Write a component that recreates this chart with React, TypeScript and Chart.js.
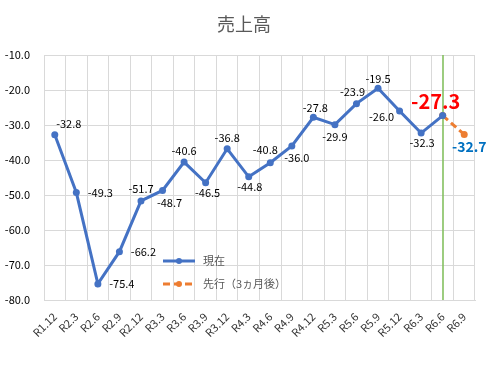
import React, { useEffect, useRef } from "react";
import { Chart, registerables } from "chart.js";

Chart.register(...registerables);

const chartTitle = "売上高";
const categories = [
  "R1.12", "R2.3", "R2.6", "R2.9", "R2.12", "R3.3", "R3.6", "R3.9", "R3.12", "R4.3",
  "R4.6", "R4.9", "R4.12", "R5.3", "R5.6", "R5.9", "R5.12", "R6.3", "R6.6", "R6.9",
];
const currentName = "現在";
const currentValues: (number | null)[] = [
  -32.8, -49.3, -75.4, -66.2, -51.7, -48.7, -40.6, -46.5, -36.8, -44.8,
  -40.8, -36.0, -27.8, -29.9, -23.9, -19.5, -26.0, -32.3, -27.3, null,
];
const forecastName = "先行（3ヵ月後）";
const forecastValues: (number | null)[] = [
  null, null, null, null, null, null, null, null, null, null,
  null, null, null, null, null, null, null, null, -27.3, -32.7,
];
const yTicks = [-80, -70, -60, -50, -40, -30, -20, -10];
const markerCategory = "R6.6";

// label offsets (dx, dy) from each point — placement only
const currentLabelOffsets: [number, number][] = [
  [14, -11], [24, 0], [24, 0], [24, 0], [0, -12], [7, 12], [0, -11], [2, 10], [0, -11], [1, 10],
  [-5, -13], [5, 12], [2, -9], [0, 12], [-4, -12], [0, -9], [-18, 6], [1, 10], [-7, -14], [0, 0],
];
const forecastLabelOffset: [number, number] = [5, 12];

const FONT = "'Noto Sans CJK JP', 'Noto Sans', sans-serif";
const BLUE = "#4472C4";
const ORANGE = "#ED7D31";
const GRID = "#D9D9D9";

export default function App() {
  const ref = useRef<HTMLCanvasElement | null>(null);

  useEffect(() => {
    document.body.style.margin = "0";
    const canvas = ref.current;
    if (!canvas) return;

    const overlay = {
      id: "overlay",
      beforeDatasetsDraw(chart: any) {
        const { ctx, chartArea } = chart;
        const xs = chart.scales.x;
        const idx = categories.indexOf(markerCategory);
        const x = Math.round(xs.getPixelForValue(idx));
        ctx.save();
        ctx.strokeStyle = "#84C060";
        ctx.lineWidth = 1.6;
        ctx.beginPath();
        ctx.moveTo(x, chartArea.top);
        ctx.lineTo(x, chartArea.bottom);
        ctx.stroke();
        ctx.restore();
      },
      afterDatasetsDraw(chart: any) {
        const { ctx } = chart;
        ctx.save();
        ctx.textAlign = "center";
        ctx.textBaseline = "middle";
        // title
        ctx.fillStyle = "#595959";
        ctx.font = `18px ${FONT}`;
        ctx.fillText(chartTitle, 244, 24);

        const m0 = chart.getDatasetMeta(0);
        m0.data.forEach((pt: any, i: number) => {
          const v = currentValues[i];
          if (v === null || v === undefined) return;
          const [dx, dy] = currentLabelOffsets[i];
          if (i === currentValues.length - 2) {
            ctx.font = `bold 20px ${FONT}`;
            ctx.fillStyle = "#FF0000";
          } else {
            ctx.font = `11px ${FONT}`;
            ctx.fillStyle = "#000000";
          }
          ctx.fillText(v.toFixed(1), pt.x + dx, pt.y + dy);
        });
        const m1 = chart.getDatasetMeta(1);
        const last = forecastValues.length - 1;
        const p = m1.data[last];
        const fv = forecastValues[last];
        if (p && fv !== null) {
          ctx.font = `bold 14px ${FONT}`;
          ctx.fillStyle = "#0070C0";
          ctx.fillText(fv.toFixed(1), p.x + forecastLabelOffset[0], p.y + forecastLabelOffset[1]);
        }

        // legend
        const lx = 163, lw = 32;
        const rows = [
          { y: 261, color: BLUE, dash: [] as number[], name: currentName },
          { y: 284, color: ORANGE, dash: [7, 4], name: forecastName },
        ];
        rows.forEach((r) => {
          ctx.strokeStyle = r.color;
          ctx.lineWidth = 3;
          ctx.setLineDash(r.dash);
          ctx.beginPath();
          ctx.moveTo(lx, r.y);
          ctx.lineTo(lx + lw, r.y);
          ctx.stroke();
          ctx.setLineDash([]);
          ctx.fillStyle = r.color;
          ctx.beginPath();
          ctx.arc(lx + lw / 2, r.y, 3, 0, Math.PI * 2);
          ctx.fill();
          ctx.fillStyle = "#595959";
          ctx.font = `11px ${FONT}`;
          ctx.textAlign = "left";
          ctx.fillText(r.name, lx + lw + 8, r.y);
        });
        ctx.restore();
      },
    };

    const chart = new Chart(canvas, {
      type: "line",
      data: {
        labels: categories,
        datasets: [
          {
            label: currentName,
            data: currentValues,
            borderColor: BLUE,
            backgroundColor: BLUE,
            borderWidth: 3,
            pointRadius: 3.5,
            pointBorderWidth: 0,
            pointBackgroundColor: BLUE,
            tension: 0,
          },
          {
            label: forecastName,
            data: forecastValues,
            borderColor: ORANGE,
            backgroundColor: ORANGE,
            borderWidth: 3,
            borderDash: [7, 4],
            pointRadius: 3.5,
            pointBorderWidth: 0,
            pointBackgroundColor: ORANGE,
            tension: 0,
          },
        ],
      },
      options: {
        responsive: false,
        animation: false,
        devicePixelRatio: 1,
        layout: { padding: { top: 55, right: 14, left: 0, bottom: 0 } },
        plugins: {
          legend: { display: false },
          title: { display: false },
          tooltip: { enabled: false },
        },
        scales: {
          x: {
            type: "category",
            offset: true,
            grid: { offset: true, color: GRID, drawTicks: false },
            border: { color: GRID },
            ticks: {
              autoSkip: false,
              minRotation: 45,
              maxRotation: 45,
              padding: 10,
              color: "#333333",
              font: { family: FONT, size: 11 },
            },
            afterFit(scale: any) {
              scale.height = 75;
            },
          },
          y: {
            min: -80,
            max: -10,
            grid: { color: GRID, drawTicks: false },
            border: { color: GRID },
            afterBuildTicks(scale: any) {
              scale.ticks = yTicks.map((v) => ({ value: v }));
            },
            ticks: {
              padding: 14,
              color: "#000000",
              font: { family: FONT, size: 11 },
              callback: (v: any) => Number(v).toFixed(1),
            },
            afterFit(scale: any) {
              scale.width = 44;
            },
          },
        },
      },
      plugins: [overlay],
    });
    return () => chart.destroy();
  }, []);

  return (
    <div style={{ position: "absolute", left: 0, top: 0, width: 489, height: 375 }}>
      <canvas ref={ref} width={489} height={375} style={{ width: 489, height: 375 }} />
    </div>
  );
}
